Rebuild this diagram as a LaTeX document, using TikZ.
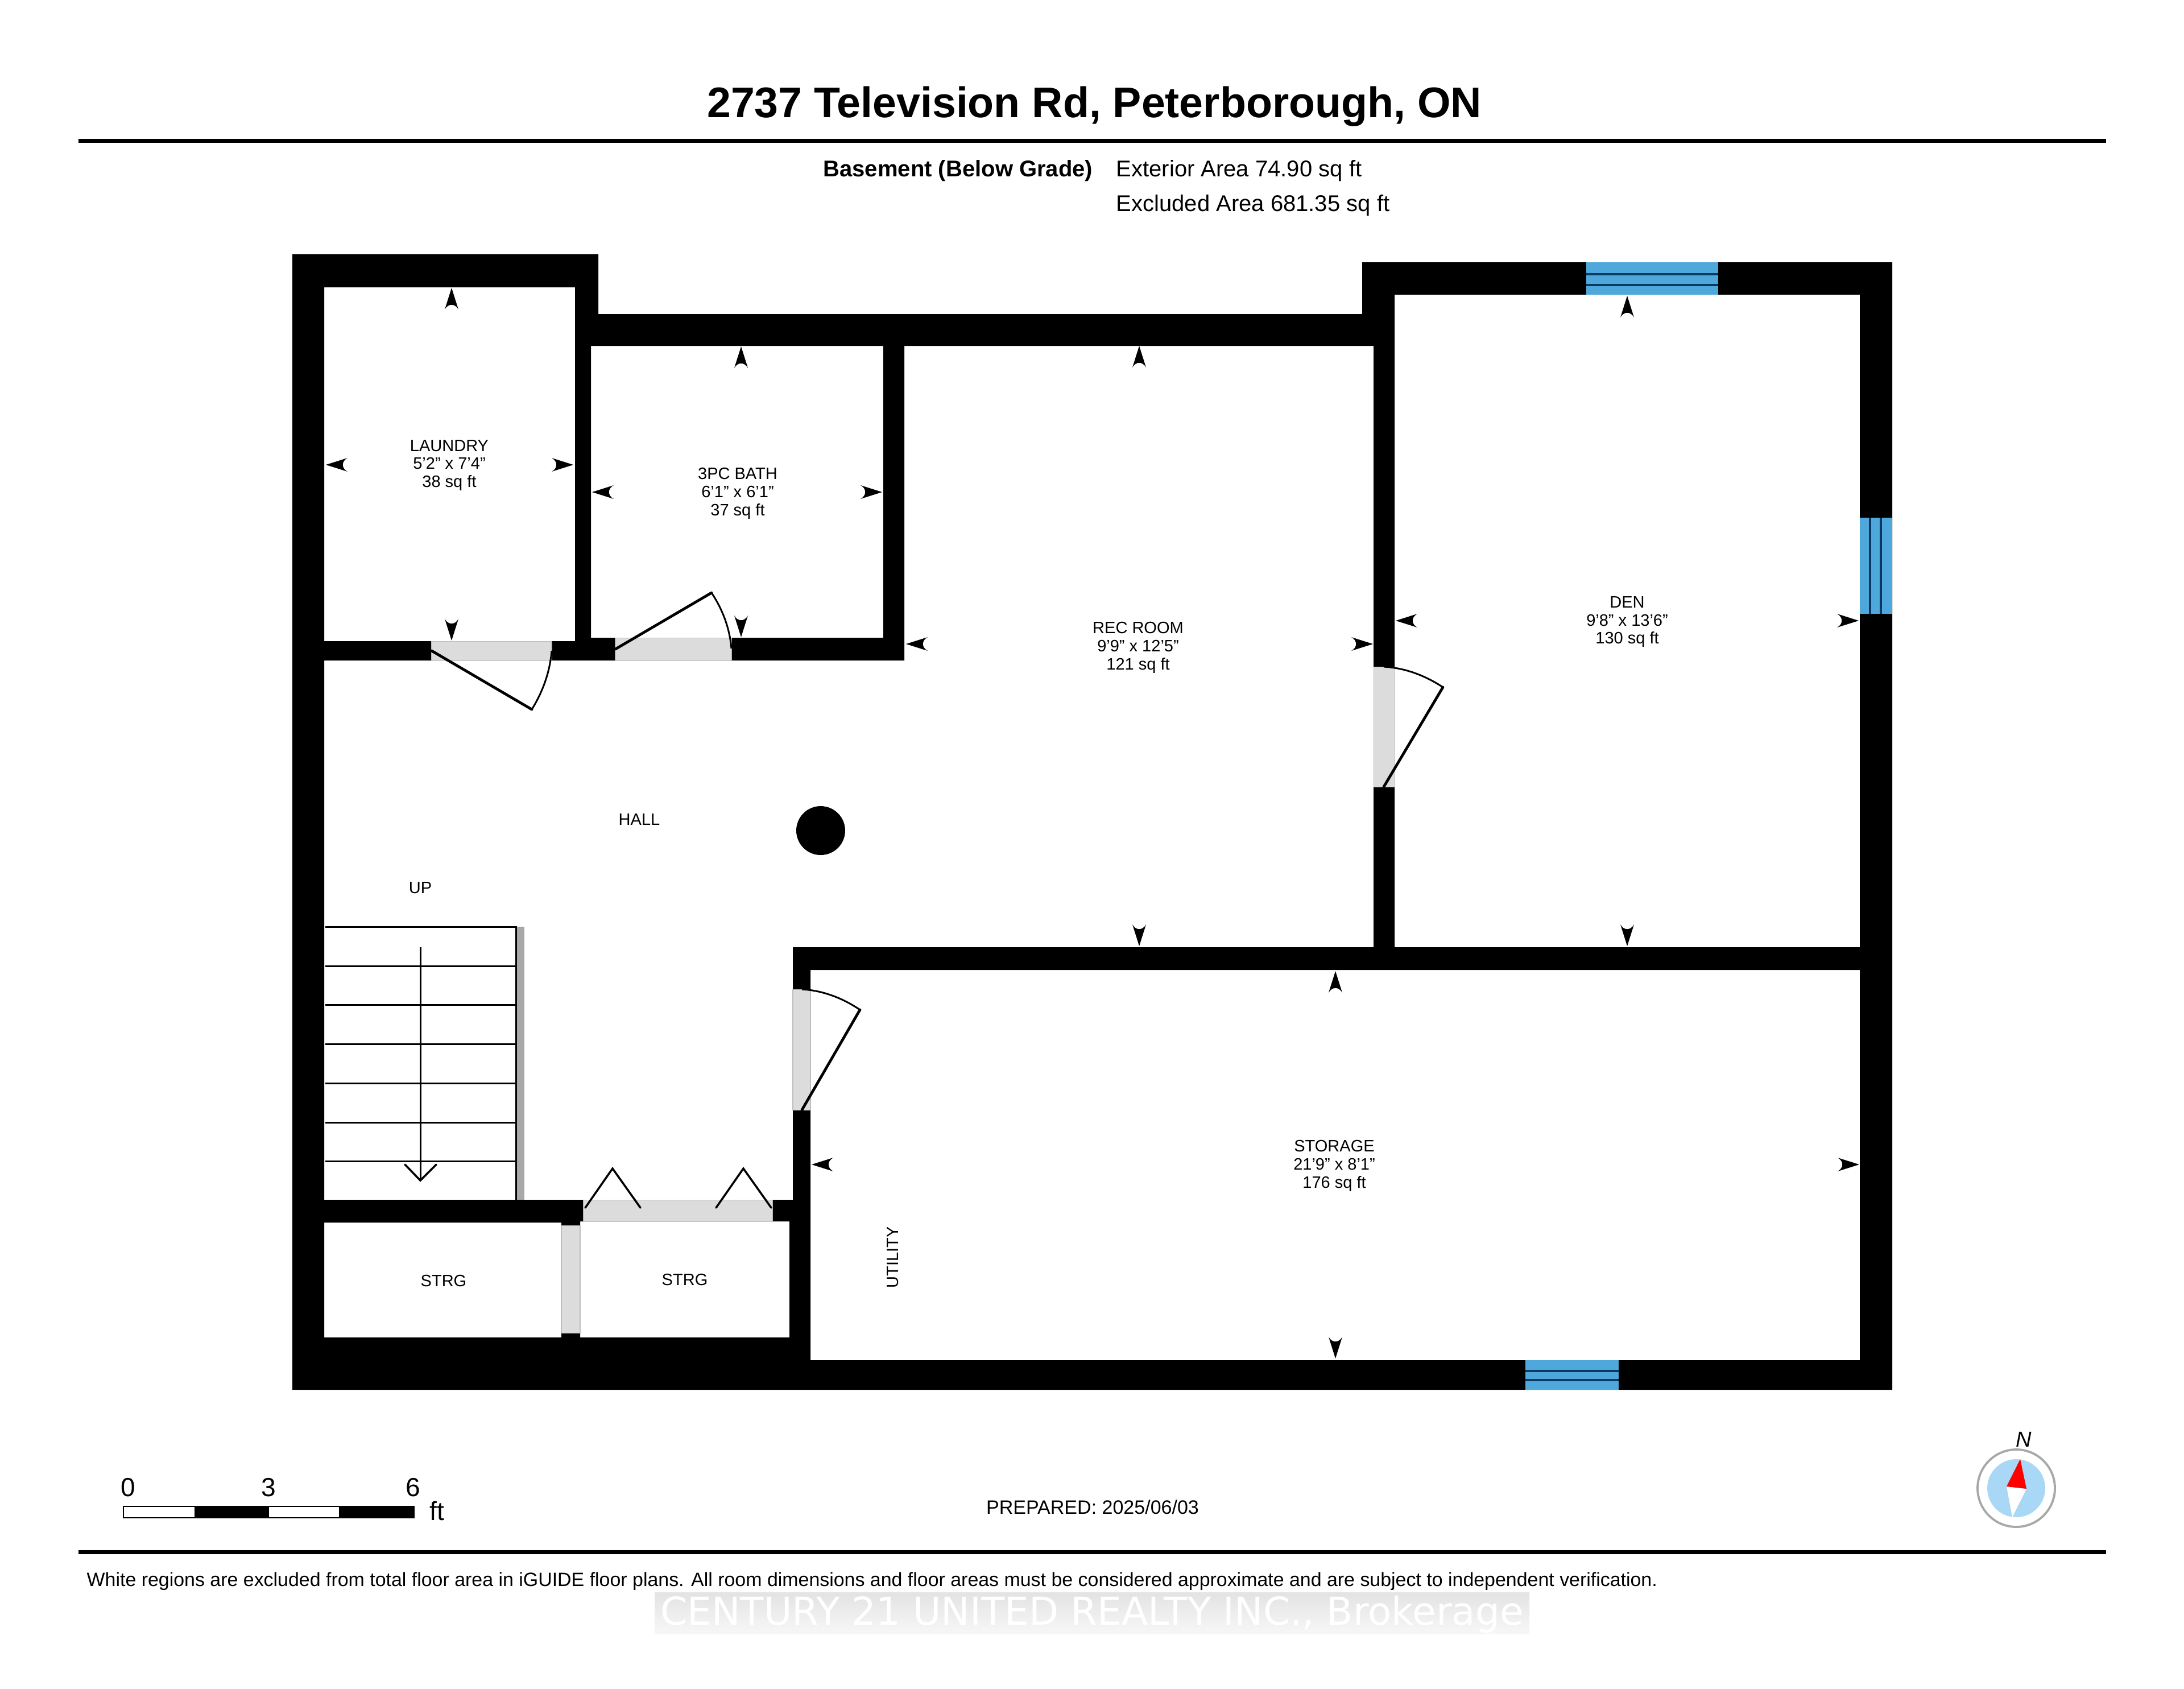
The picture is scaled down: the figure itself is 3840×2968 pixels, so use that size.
\documentclass[tikz,border=0pt]{standalone}
\usepackage{fontspec}
\setmainfont{Liberation Sans}
\newcommand{\fs}[1]{\pgfmathsetlengthmacro{\fsz}{#1*0.28453pt}\fontsize{\fsz}{1.1\dimexpr\fsz\relax}\selectfont}
\definecolor{doorgray}{HTML}{DCDCDC}
\definecolor{dooredge}{HTML}{BDBDBD}
\definecolor{railgray}{HTML}{A8A8A8}
\definecolor{winblue}{HTML}{4FA8DC}
\definecolor{winnavy}{HTML}{0A3A63}
\definecolor{compblue}{HTML}{A8D8F5}
\definecolor{markgray}{HTML}{E3E3E3}
\definecolor{markpale}{HTML}{F7F7F7}
\tikzset{
  x=0.01cm,y=-0.01cm,
  wall/.style={fill=black,draw=none},
  doorgap/.style={fill=doorgray,draw=dooredge,line width=0.3pt},
  winpane/.style={fill=winblue,draw=none},
  winline/.style={draw=winnavy,line width=0.9pt},
  leaf/.style={draw=black,line width=1.35pt,line cap=round},
  swing/.style={draw=black,line width=0.85pt},
  tread/.style={draw=black,line width=0.85pt},
  rule/.style={draw=black,line width=2pt},
  room/.style={inner sep=0pt,align=center,font=\fs{29},text=black},
}
\newcommand{\mk}[3]{\fill[shift={(#1,#2)},rotate=#3] (0,0) -- (-38,12) .. controls (-27,6) and (-27,-6) .. (-38,-12) -- cycle;}
\begin{document}
\begin{tikzpicture}
\useasboundingbox (0,0) rectangle (3840,2968);
\fill[white] (0,0) rectangle (3840,2968);

% header
\node[inner sep=0pt,font=\fs{75.2}\bfseries] (title) at (1924,187) {2737 Television Rd, Peterborough, ON};
\coordinate (hl) at (138,247); \coordinate (hr) at (3703,247);
\draw[rule] (hl) -- (hr);
\node[inner sep=0pt,anchor=east,font=\fs{40}\bfseries] (sub) at (1922,300) {Basement (Below Grade)};
\node[inner sep=0pt,anchor=west,font=\fs{40}] (ext) at (1962,300) {Exterior Area 74.90 sq ft};
\node[inner sep=0pt,anchor=west,font=\fs{40}] (exc) at (1962,361) {Excluded Area 681.35 sq ft};

% walls
\fill[wall,even odd rule]
  (514,447) -- (1052,447) -- (1052,552) -- (2395,552) -- (2395,461) -- (3327,461) -- (3327,2443) -- (514,2443) -- cycle
  (570,505) -- (1011,505) -- (1011,1127) -- (570,1127) -- cycle
  (1039,608) -- (1553,608) -- (1553,1121) -- (1039,1121) -- cycle
  (1590,608) -- (2415,608) -- (2415,1665) -- (1394,1665) -- (1394,2109) -- (570,2109) -- (570,1161) -- (1590,1161) -- cycle
  (2452,518) -- (3270,518) -- (3270,1665) -- (2452,1665) -- cycle
  (1425,1705) -- (3270,1705) -- (3270,2391) -- (1425,2391) -- cycle
  (570,2149) -- (987,2149) -- (987,2351) -- (570,2351) -- cycle
  (1020,2147) -- (1388,2147) -- (1388,2351) -- (1020,2351) -- cycle;
% door gaps
\path[doorgap] (759,1127) rectangle (970,1161);
\path[doorgap] (1082,1121) rectangle (1286,1161);
\path[doorgap] (2415,1172) rectangle (2452,1383);
\path[doorgap] (1394,1739) rectangle (1425,1951);
\path[doorgap] (1026,2109) rectangle (1358,2147);
\path[doorgap] (987,2154) rectangle (1020,2343);

% door leaves
\draw[leaf] (759,1144) -- (935,1247);
\draw[swing] (935,1247) .. controls (955,1215) and (967,1180) .. (970,1144);
\draw[leaf] (1082,1141) -- (1251,1042);
\draw[swing] (1251,1042) .. controls (1271,1072) and (1283,1105) .. (1286,1140);
\draw[leaf] (2433,1383) -- (2537,1208);
\draw[swing] (2433,1172) .. controls (2470,1174) and (2505,1187) .. (2537,1208);
\draw[leaf] (1410,1951) -- (1512,1775);
\draw[swing] (1410,1739) .. controls (1446,1741) and (1481,1754) .. (1512,1775);
\draw[leaf,line width=1pt] (1029,2123) -- (1077,2054) -- (1126,2123);
\draw[leaf,line width=1pt] (1259,2123) -- (1307,2054) -- (1356,2123);

% windows
\fill[winpane] (2789,461) rectangle (3021,518);
\draw[winline] (2789,482) -- (3021,482); \draw[winline] (2789,501) -- (3021,501);
\fill[winpane] (3270,910) rectangle (3327,1079);
\draw[winline] (3288,910) -- (3288,1079); \draw[winline] (3307,910) -- (3307,1079);
\fill[winpane] (2682,2391) rectangle (2846,2443);
\draw[winline] (2682,2410) -- (2846,2410); \draw[winline] (2682,2426) -- (2846,2426);

% stairs
\draw[tread] (572,1629) -- (907,1629) -- (907,2109);
\foreach \yy in {1698,1766,1835,1904,1973,2041} \draw[tread] (572,\yy) -- (907,\yy);
\fill[railgray] (909,1629) rectangle (922,2109);
\draw[tread] (739,1665) -- (739,2075);
\draw[tread,line cap=round,line width=1pt] (712,2047) -- (739,2075) -- (767,2047);

% column
\fill[black] (1443,1460) circle (43);

% measure arrows
\mk{794}{506}{90}\mk{794}{1126}{-90}\mk{573}{817}{180}\mk{1008}{817}{0}
\mk{1303}{609}{90}\mk{1303}{1120}{-90}\mk{1041}{865}{180}\mk{1551}{865}{0}
\mk{2003}{608}{90}\mk{2003}{1663}{-90}\mk{1593}{1132}{180}\mk{2414}{1132}{0}
\mk{2861}{520}{90}\mk{2861}{1663}{-90}\mk{2454}{1091}{180}\mk{3268}{1091}{0}
\mk{2348}{1707}{90}\mk{2348}{2388}{-90}\mk{1427}{2047}{180}\mk{3269}{2047}{0}

% room labels
\node[room] (laundry) at (790,818) {LAUNDRY\\5'2" x 7'4"\\38 sq ft};
\node[room] (bath) at (1297,867) {3PC BATH\\6'1" x 6'1"\\37 sq ft};
\node[room] (rec) at (2001,1138) {REC ROOM\\9'9" x 12'5"\\121 sq ft};
\node[room] (den) at (2861,1093) {DEN\\9'8" x 13'6"\\130 sq ft};
\node[room] (stor) at (2346,2049) {STORAGE\\21'9" x 8'1"\\176 sq ft};
\node[room] (hall) at (1124,1440) {HALL};
\node[room] (up) at (739,1561) {UP};
\node[room] (s1) at (780,2251) {STRG};
\node[room] (s2) at (1204,2249) {STRG};
\node[room,rotate=90] (util) at (1570,2210) {UTILITY};

% scale bar
\fill[white] (217,2648) rectangle (728,2668);
\fill[black] (342,2648) rectangle (473,2668);
\fill[black] (596,2648) rectangle (728,2668);
\draw[black,line width=0.8pt] (217,2648) rectangle (728,2668);
\node[inner sep=0pt,font=\fs{46}] (z0) at (225,2615) {0};
\node[inner sep=0pt,font=\fs{46}] (z3) at (472,2615) {3};
\node[inner sep=0pt,font=\fs{46}] (z6) at (726,2615) {6};
\node[inner sep=0pt,font=\fs{46}] (zft) at (768,2656) {ft};

\node[inner sep=0pt,font=\fs{34}] (prep) at (1921,2649) {PREPARED: 2025/06/03};

% compass
\draw[railgray,line width=1.1pt] (3545,2616) circle (68);
\fill[compblue] (3545,2616) circle (51);
\fill[white] (3528,2613) -- (3563,2617) -- (3538,2667) -- cycle;
\fill[red] (3552,2565) -- (3528,2613) -- (3563,2617) -- cycle;
\node[inner sep=0pt,font=\fs{38}\itshape] (north) at (3558,2530) {N};

% footer
\coordinate (fl) at (138,2728); \coordinate (fr) at (3703,2728);
\draw[rule] (fl) -- (fr);
\node[inner sep=0pt,anchor=west,font=\fs{33.9}] (foot) at (152,2780) {White regions are excluded from total floor area in iGUIDE floor plans. All room dimensions and floor areas must be considered approximate and are subject to independent verification.};

% watermark
\path[top color=markgray,bottom color=markpale,shading angle=0] (1151,2799) rectangle (2689,2872);
\node[inner sep=0pt,font={\fontspec{DejaVu Sans}\fs{67.5}},text=white] (mark) at (1920,2838) {CENTURY 21 UNITED REALTY INC., Brokerage};
\end{tikzpicture}
\end{document}
